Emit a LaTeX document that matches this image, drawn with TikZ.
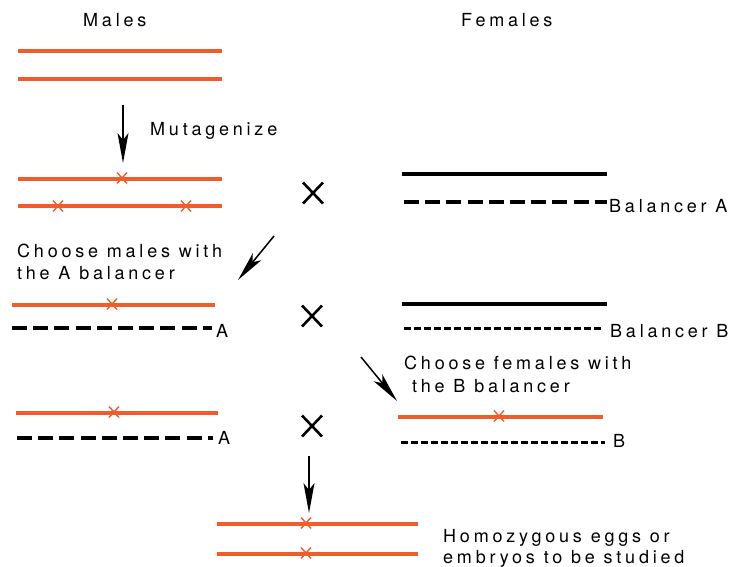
\documentclass[tikz,border=0pt]{standalone}
\usepackage{fontspec}
\setmainfont{TeX Gyre Heros}[LetterSpace=21]
\usetikzlibrary{arrows.meta}
\definecolor{chrred}{RGB}{240,92,44}
\tikzset{
  redline/.style={draw=chrred, line width=3.2pt},
  blkline/.style={draw=black, line width=3.2pt},
  dashA/.style={draw=black, line width=3.4pt, dash pattern=on 15pt off 6.2pt},
  dashB/.style={draw=black, line width=3pt, dash pattern=on 7pt off 3pt},
  xmark/.style={draw=chrred, line width=1.4pt},
  bigx/.style={draw=black, line width=2.6pt},
  arr/.style={draw=black, line width=1.5pt, -{Stealth[length=30pt,width=11pt,inset=7pt]}},
  lbl/.style={inner sep=0pt, anchor=base west, font=\fontsize{18}{20}\selectfont},
  mut/.pic={\draw[xmark] (-5,-5.5) -- (5,5.5) (-5,5.5) -- (5,-5.5);},
  cross/.pic={\draw[bigx] (-10,-10.5) -- (10,10.5) (-10,10.5) -- (10,-10.5);}
}
\begin{document}
\begin{tikzpicture}[x=1pt,y=-1pt]
\useasboundingbox (0,0) rectangle (731,566);
% headings
\node[lbl] (males) at (83,26) {Males};
\node[lbl] (females) at (461,26) {Females};
% generation 0
\draw[redline] (18,51) -- (222,51);
\draw[redline] (18,79) -- (222,79);
\coordinate (a1s) at (123,105);
\coordinate (a1e) at (123,163);
\draw[arr] (a1s) -- (a1e);
\node[lbl] (mutag) at (150,135) {Mutagenize};
% generation 1 males
\draw[redline] (18,179) -- (222,179);
\pic at (122,178) {mut};
\draw[redline] (18,206) -- (222,206);
\pic at (58,206) {mut};
\pic at (186,206) {mut};
\pic at (313,193) {cross};
% females A
\draw[blkline] (402,174) -- (607,174);
\draw[dashA] (404,202) -- (607,202);
\node[lbl] (balA) at (609,212) {Balancer A};
% choose males
\coordinate (a2s) at (274,236);
\coordinate (a2e) at (238,280);
\draw[arr] (a2s) -- (a2e);
\node[lbl] (chm1) at (17,257) {Choose males with};
\node[lbl] (chm2) at (17,279) {the A balancer};
% generation 2 males
\draw[redline] (12,305) -- (215,305);
\pic at (112,304) {mut};
\draw[dashA] (12,328) -- (212,328);
\node[lbl] (A1) at (216,337) {A};
\pic at (312,316) {cross};
% females B
\draw[blkline] (402,304) -- (607,304);
\draw[dashB] (404,328) -- (601,328);
\node[lbl] (balB) at (610,337) {Balancer B};
% choose females
\coordinate (a3s) at (361,357);
\coordinate (a3e) at (397,401);
\draw[arr] (a3s) -- (a3e);
\node[lbl] (chf1) at (404,369) {Choose females with};
\node[lbl] (chf2) at (412,392) {the B balancer};
% generation 3
\draw[redline] (16,413) -- (218,413);
\pic at (114,412) {mut};
\draw[dashA] (17,438) -- (213,438);
\node[lbl] (A2) at (218,444) {A};
\pic at (312,426) {cross};
\draw[redline] (398,417) -- (603,417);
\pic at (499,416) {mut};
\draw[dashB] (401,442) -- (605,442);
\node[lbl] (Bl) at (613,447) {B};
% result
\coordinate (a4s) at (309,456);
\coordinate (a4e) at (309,513);
\draw[arr] (a4s) -- (a4e);
\draw[redline] (217,524) -- (418,524);
\pic at (306,523) {mut};
\draw[redline] (217,554) -- (418,554);
\pic at (306,553) {mut};
\node[lbl] (hom1) at (443,542) {Homozygous eggs or};
\node[lbl] (hom2) at (443,563) {embryos to be studied};
\end{tikzpicture}
\end{document}
